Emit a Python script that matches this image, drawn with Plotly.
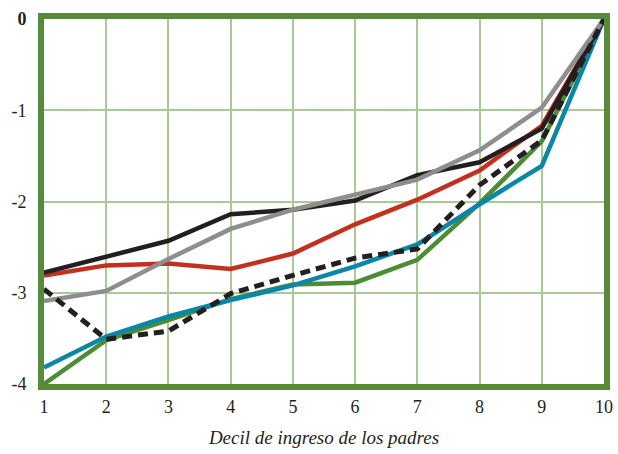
import plotly.graph_objects as go

deciles = [1, 2, 3, 4, 5, 6, 7, 8, 9, 10]

serie_negra = [-2.78, -2.60, -2.43, -2.14, -2.09, -1.99, -1.71, -1.57, -1.20, 0.0]
serie_gris = [-3.09, -2.98, -2.63, -2.30, -2.09, -1.92, -1.76, -1.44, -0.97, 0.0]
serie_roja = [-2.81, -2.70, -2.68, -2.74, -2.57, -2.25, -1.98, -1.66, -1.17, 0.0]
serie_azul = [-3.82, -3.48, -3.26, -3.08, -2.92, -2.71, -2.47, -2.03, -1.61, 0.0]
serie_verde = [-4.0, -3.52, -3.30, -3.07, -2.91, -2.89, -2.64, -2.02, -1.34, 0.0]
serie_punteada = [-2.96, -3.51, -3.42, -3.01, -2.81, -2.62, -2.52, -1.82, -1.33, 0.0]

y_ticks = [0, -1, -2, -3, -4]
y_tick_text = ["<b>0</b>", "-1", "-2", "-3", "-4"]
x_title = "Decil de ingreso de los padres"

fig = go.Figure()

series = [
    (serie_verde, "#4E8B35", "solid", 4.5),
    (serie_azul, "#0A86A6", "solid", 4.5),
    (serie_roja, "#C4301E", "solid", 4.5),
    (serie_negra, "#231F20", "solid", 4.5),
    (serie_gris, "#8E8E8E", "solid", 4.5),
    (serie_punteada, "#231F20", "10px,6px", 5),
]
for ys, color, dash, width in series:
    fig.add_trace(go.Scatter(
        x=deciles, y=ys, mode="lines",
        line=dict(color=color, width=width, dash=dash),
        showlegend=False,
    ))

serif = "Liberation Serif"

# right-aligned y labels: trailing no-break spaces keep them clear of the frame
pad = "\u00a0\u00a0"

fig.update_layout(
    width=618, height=454,
    margin=dict(l=44, r=14, t=19, b=70),
    paper_bgcolor="white", plot_bgcolor="white",
    font=dict(family=serif, size=18, color="#231F20"),
    xaxis=dict(
        range=[1, 10], tickvals=deciles, automargin=False,
        showgrid=True, gridcolor="#A9C998", gridwidth=1.5,
        showline=True, linecolor="#558B3A", linewidth=6, mirror=True,
        zeroline=False, ticks="", ticklabelstandoff=1,
        title=dict(text=f"<i>{x_title}</i>", font=dict(family=serif, size=19), standoff=17),
    ),
    yaxis=dict(
        range=[-4, 0], tickvals=y_ticks, ticktext=[t + pad for t in y_tick_text],
        automargin=False,
        showgrid=True, gridcolor="#A9C998", gridwidth=1.5,
        showline=True, linecolor="#558B3A", linewidth=6, mirror=True,
        zeroline=False, ticks="", ticklabelstandoff=-1,
    ),
)

fig.write_html("out.html")
